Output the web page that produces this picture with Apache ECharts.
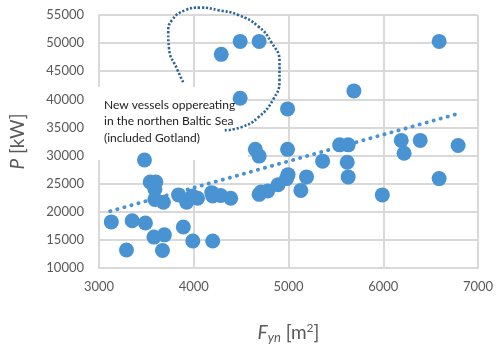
<!DOCTYPE html>
<html>
<head>
<meta charset="utf-8">
<script src="https://cdn.jsdelivr.net/npm/echarts@6/dist/echarts.min.js"></script>
<style>html,body{margin:0;padding:0;background:#fff;}#c{width:500px;height:349px;}</style>
</head>
<body>
<div id="c"></div>
<script>
// Vessel data: F_yn [m2] and P [kW]
const areaFyn = [3130, 3290, 3350, 3480, 3490, 3540, 3600, 3590, 3580, 3590, 3680, 3690, 3670,
  3840, 3890, 3925, 3985, 3990, 4040, 4190, 4200, 4200, 4285, 4390,
  4290, 4490, 4690, 4490, 4650, 4690, 4990, 4990, 5690, 5360, 5540, 5630, 5620, 5630,
  5190, 4995, 4980, 4890, 4690, 4710, 4780, 5130, 5990, 6590, 6190, 6390, 6220, 6790, 6590];
const powerP = [18200, 13200, 18400, 29200, 18000, 25300, 25300, 24000, 15500, 22200, 21700, 15900, 13100,
  23000, 17300, 21700, 22800, 14800, 22400, 23400, 22800, 14800, 22900, 22400,
  48000, 50300, 50300, 40200, 31100, 29900, 31100, 38300, 41500, 29000, 31900, 31900, 28800, 26200,
  26200, 26600, 25900, 24800, 23100, 23500, 23700, 23800, 23000, 25900, 32700, 32700, 30400, 31800, 50300];
// Linear trend line (start / end)
const trendX = [3118, 6770];
const trendY = [20100, 37350];
// Hand-drawn dotted annotation curve (data coordinates)
const curveX = [3888, 3826, 3739, 3731, 3773, 3912, 4069, 4261, 4470, 4679, 4818, 4905, 4905, 4836, 4679, 4505, 4313];
const curveY = [43040, 45320, 49030, 51880, 54150, 55860, 56320, 55860, 55000, 53010, 50170, 46750, 43330, 39910, 36770, 35060, 34500];
// Axis ticks
const xTicks = [3000, 4000, 5000, 6000, 7000];
const yTicks = [10000, 15000, 20000, 25000, 30000, 35000, 40000, 45000, 50000, 55000];
const noteLines = ['New vessels oppereating', 'in the northen Baltic Sea', '(included Gotland)'];

const chart = echarts.init(document.getElementById('c'), null, {renderer: 'canvas'});
const pts = areaFyn.map((x, i) => [x, powerP[i]]);
const trend = trendX.map((x, i) => [x, trendY[i]]);
const curve = curveX.map((x, i) => [x, curveY[i]]);
const gridCol = '#d9d9d9';
const fontFam = 'Lato, "Open Sans", sans-serif';

chart.setOption({
  animation: false,
  backgroundColor: '#fff',
  grid: {left: 96, right: 22, top: 15, bottom: 71, containLabel: false},
  xAxis: {
    type: 'value', min: xTicks[0], max: xTicks[xTicks.length - 1], interval: xTicks[1] - xTicks[0],
    axisLine: {show: true, lineStyle: {color: gridCol, width: 2}},
    axisTick: {show: false},
    splitLine: {show: true, lineStyle: {color: gridCol, width: 2}},
    axisLabel: {color: '#595959', fontSize: 13, fontFamily: fontFam, margin: 12, formatter: v => String(v)},
    name: '{i|F}{s|yn}{n| [m}{p|2}{n|]}',
    nameLocation: 'middle', nameGap: 54,
    nameTextStyle: {
      rich: {
        i: {fontSize: 19, fontStyle: 'italic', color: '#595959', fontFamily: fontFam},
        s: {fontSize: 13, fontStyle: 'italic', color: '#595959', fontFamily: fontFam, padding: [9, 0, 0, 0]},
        n: {fontSize: 19, color: '#595959', fontFamily: fontFam},
        p: {fontSize: 12, color: '#595959', fontFamily: fontFam, padding: [0, 0, 9, 0]}
      }
    }
  },
  yAxis: {
    type: 'value', min: yTicks[0], max: yTicks[yTicks.length - 1], interval: yTicks[1] - yTicks[0],
    axisLine: {show: true, lineStyle: {color: gridCol, width: 2}},
    axisTick: {show: false},
    splitLine: {show: true, lineStyle: {color: gridCol, width: 2}},
    axisLabel: {color: '#595959', fontSize: 13, fontFamily: fontFam, margin: 15, formatter: v => String(v)},
    name: '{i|P}{n| [kW]}',
    nameLocation: 'middle', nameGap: 72,
    nameTextStyle: {
      rich: {
        i: {fontSize: 19, fontStyle: 'italic', color: '#595959', fontFamily: fontFam},
        n: {fontSize: 19, color: '#595959', fontFamily: fontFam}
      }
    }
  },
  graphic: [
    {type: 'rect', z: 1, shape: {x: 88, y: 87, width: 160, height: 73}, style: {fill: '#fff'}},
    {type: 'text', z: 1, left: 104, top: 97,
      style: {text: noteLines.join('\n'), font: '12px ' + fontFam, fill: '#222', lineHeight: 16.3}}
  ],
  series: [
    {type: 'scatter', data: pts, symbolSize: 15, itemStyle: {color: '#4a93d2', opacity: 1}, z: 3},
    {type: 'line', data: trend, symbol: 'none', z: 4,
      lineStyle: {color: '#4a93d2', width: 3.8, type: [0.3, 7], cap: 'round'}},
    {type: 'line', data: curve, symbol: 'none', smooth: 0.5, clip: false, z: 4,
      lineStyle: {color: '#2e6699', width: 2.6, type: [2.2, 1.8]}}
  ]
});
</script>
</body>
</html>
